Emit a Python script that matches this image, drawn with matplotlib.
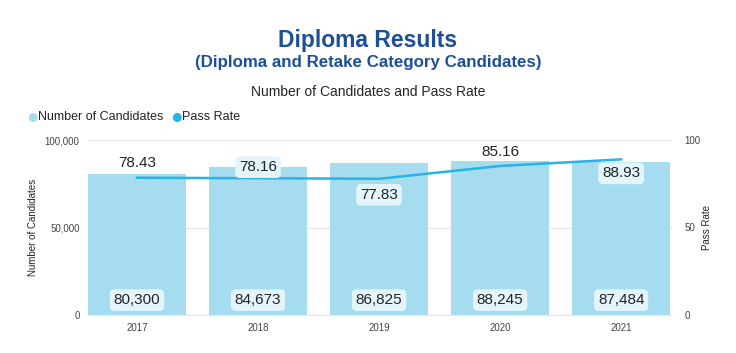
import matplotlib
matplotlib.use("Agg")
import matplotlib.pyplot as plt
import matplotlib.transforms as mtransforms

plt.rcParams['font.family'] = ['Liberation Sans', 'DejaVu Sans']

years = ["2017", "2018", "2019", "2020", "2021"]
candidates = [80300, 84673, 86825, 88245, 87484]
pass_rate = [78.43, 78.16, 77.83, 85.16, 88.93]
# where each pass rate label sits: offset in px from the line, and whether it has a box
rate_offset = [15, 11, -16, 14, -14]
rate_box = [False, True, True, False, True]

bar_color = "#A6DCF0"
line_color = "#29B2E6"
title_color = "#1C4F96"
text_color = "#252423"

fig = plt.figure(figsize=(7.36, 3.53), dpi=100)
ax = fig.add_axes([88 / 736, 1 - 315 / 353, 584 / 736, 175 / 353])
ax2 = ax.twinx()

x = list(range(len(years)))
ax.bar(x, candidates, width=0.81, color=bar_color, zorder=2)
ax.set_ylim(0, 100000)
ax.set_xlim(-0.405, 4.42)
ax.set_yticks([0, 50000, 100000])
ax.set_yticklabels(["0", "50,000", "100,000"])
ax.set_xticks(x)
ax.set_xticklabels(years)
ax.grid(axis="y", color="#E8E8E8", linewidth=1, zorder=0)
ax.set_axisbelow(True)
ax.set_ylabel("Number of Candidates", fontsize=7, color=text_color, labelpad=5)

ax2.plot(x, pass_rate, color=line_color, linewidth=1.8, zorder=3)
ax2.set_ylim(0, 100)
ax2.set_yticks([0, 50, 100])
ax2.set_ylabel("Pass Rate", fontsize=7, color=text_color, labelpad=1)

for a in (ax, ax2):
    for s in a.spines.values():
        s.set_visible(False)
    a.tick_params(length=0, labelsize=7, colors="#444444")
ax.tick_params(axis="y", pad=6)
ax2.tick_params(axis="y", pad=9)
ax.tick_params(axis="x", pad=6)
ax.spines["bottom"].set_visible(True)
ax.spines["bottom"].set_color("#E8E8E8")

# bar value labels near the bottom
trans = mtransforms.blended_transform_factory(ax.transData, ax.transAxes)
for xi, v in zip(x, candidates):
    ax.text(xi, 0.085, f"{v:,}", transform=trans, ha="center", va="center",
            fontsize=11, color=text_color, zorder=5,
            bbox=dict(boxstyle="round,pad=0.25,rounding_size=0.3",
                      fc="#E3F4FB", ec="none"))

# pass rate labels
for xi, v, off, box in zip(x, pass_rate, rate_offset, rate_box):
    kw = {}
    if box:
        kw["bbox"] = dict(boxstyle="round,pad=0.25,rounding_size=0.3",
                          fc="#E3F4FB", ec="none")
    ax2.annotate(f"{v:.2f}", (xi, v), xytext=(0, off), textcoords="offset pixels",
                 ha="center", va="center", fontsize=11, color=text_color,
                 zorder=5, **kw)

fig.text(0.5, 1 - 40 / 353, "Diploma Results", ha="center", va="center",
         fontsize=16.5, fontweight="bold", color=title_color)
fig.text(0.5, 1 - 62 / 353, "(Diploma and Retake Category Candidates)",
         ha="center", va="center", fontsize=12.2, fontweight="bold", color=title_color)
fig.text(0.5, 1 - 92 / 353, "Number of Candidates and Pass Rate",
         ha="center", va="center", fontsize=10, color=text_color)

# legend
fig.text(26 / 736, 1 - 117 / 353, "\u25cf", ha="left", va="center",
         fontsize=15, color=bar_color)
fig.text(38 / 736, 1 - 117 / 353, "Number of Candidates", ha="left", va="center",
         fontsize=9, color=text_color)
fig.text(170 / 736, 1 - 117 / 353, "\u25cf", ha="left", va="center",
         fontsize=15, color=line_color)
fig.text(182 / 736, 1 - 117 / 353, "Pass Rate", ha="left", va="center",
         fontsize=9, color=text_color)

fig.savefig("out.png", dpi=100)
